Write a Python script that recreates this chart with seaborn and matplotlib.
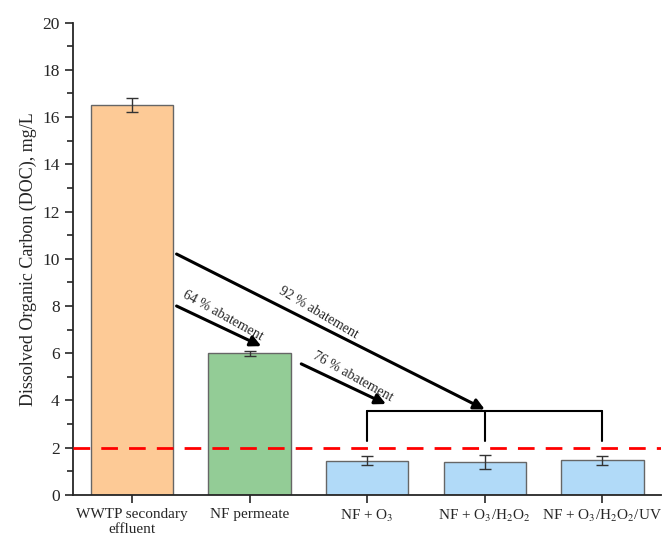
import numpy as np
import pandas as pd
import matplotlib
matplotlib.use("Agg")
import matplotlib.pyplot as plt
import seaborn as sns

# data
samples = ["WWTP secondary\neffluent", "NF permeate", r"NF + O$_3$",
           r"NF + O$_3$/H$_2$O$_2$", r"NF + O$_3$/H$_2$O$_2$/UV"]
doc = [16.5, 6.0, 1.45, 1.38, 1.47]
doc_err = [0.3, 0.1, 0.2, 0.3, 0.2]
bar_colors = ["#FDCA96", "#93CC96", "#B1DAF8", "#B1DAF8", "#B1DAF8"]
limit = 2.0

# abatement arrows: (label, start x, start y, end x, end y, text position along arrow)
abatements = [
    ("64 % abatement", 0.38, 8.0, 1.10, 6.3, 0.48),
    ("92 % abatement", 0.38, 10.2, 3.0, 3.62, 0.44),
    ("76 % abatement", 1.44, 5.55, 2.16, 3.85, 0.54),
]
bracket_y = 3.55
bracket_drop = 2.3

df = pd.DataFrame({"sample": samples, "doc": doc})

sns.set_style("ticks")
plt.rcParams["font.family"] = ["Liberation Serif", "DejaVu Serif"]
plt.rcParams["mathtext.fontset"] = "stix"

fig = plt.figure(figsize=(6.7, 5.36), dpi=100)
ax = fig.add_axes([0.109, 0.0765, 0.878, 0.8815])

sns.barplot(data=df, x="sample", y="doc", hue="sample", palette=bar_colors,
            saturation=1, legend=False, errorbar=None, width=0.7,
            edgecolor="#666666", linewidth=1.0, ax=ax)
ax.errorbar(np.arange(len(doc)), doc, yerr=doc_err, fmt="none",
            ecolor="#333333", elinewidth=1.0, capsize=4, capthick=1.0)

ax.axhline(limit, color="#FF0000", linestyle=(0, (6, 4)), lw=2, zorder=3)

# bracket over the three oxidation steps
ax.plot([2, 4], [bracket_y, bracket_y], color="black", lw=1.5)
for xi in [2, 3, 4]:
    ax.plot([xi, xi], [bracket_drop, bracket_y], color="black", lw=1.5)

for label, x0, y0, x1, y1, frac in abatements:
    ax.annotate("", xy=(x1, y1), xytext=(x0, y0),
                arrowprops=dict(arrowstyle="-|>", lw=2.2, color="black",
                                mutation_scale=16, shrinkA=0, shrinkB=0))
    # angle on screen
    p0 = ax.transData.transform((x0, y0))
    p1 = ax.transData.transform((x1, y1))
    ang = np.degrees(np.arctan2(p1[1] - p0[1], p1[0] - p0[0]))
    pm = p0 + frac * (p1 - p0)
    nx, ny = -np.sin(np.radians(ang)), np.cos(np.radians(ang))
    pt = ax.transData.inverted().transform((pm[0] + nx * 12, pm[1] + ny * 12))
    ax.text(pt[0], pt[1], label, rotation=ang, rotation_mode="anchor",
            ha="center", va="center", fontsize=10)

ax.set_xlim(-0.5, 4.5)
ax.set_ylim(0, 20)
ax.set_yticks(np.arange(0, 21, 2))
ax.set_yticks(np.arange(1, 20, 2), minor=True)
ax.tick_params(axis="both", which="major", length=6, width=1.2)
ax.tick_params(axis="x", labelsize=11)
ax.tick_params(axis="y", labelsize=12.5)
ax.tick_params(axis="y", which="minor", length=4, width=1.2)
ax.set_xlabel("")
ax.set_ylabel("Dissolved Organic Carbon (DOC), mg/L", fontsize=13)
sns.despine(ax=ax)
for s in ["left", "bottom"]:
    ax.spines[s].set_linewidth(1.3)

fig.savefig("out.png", dpi=100)
